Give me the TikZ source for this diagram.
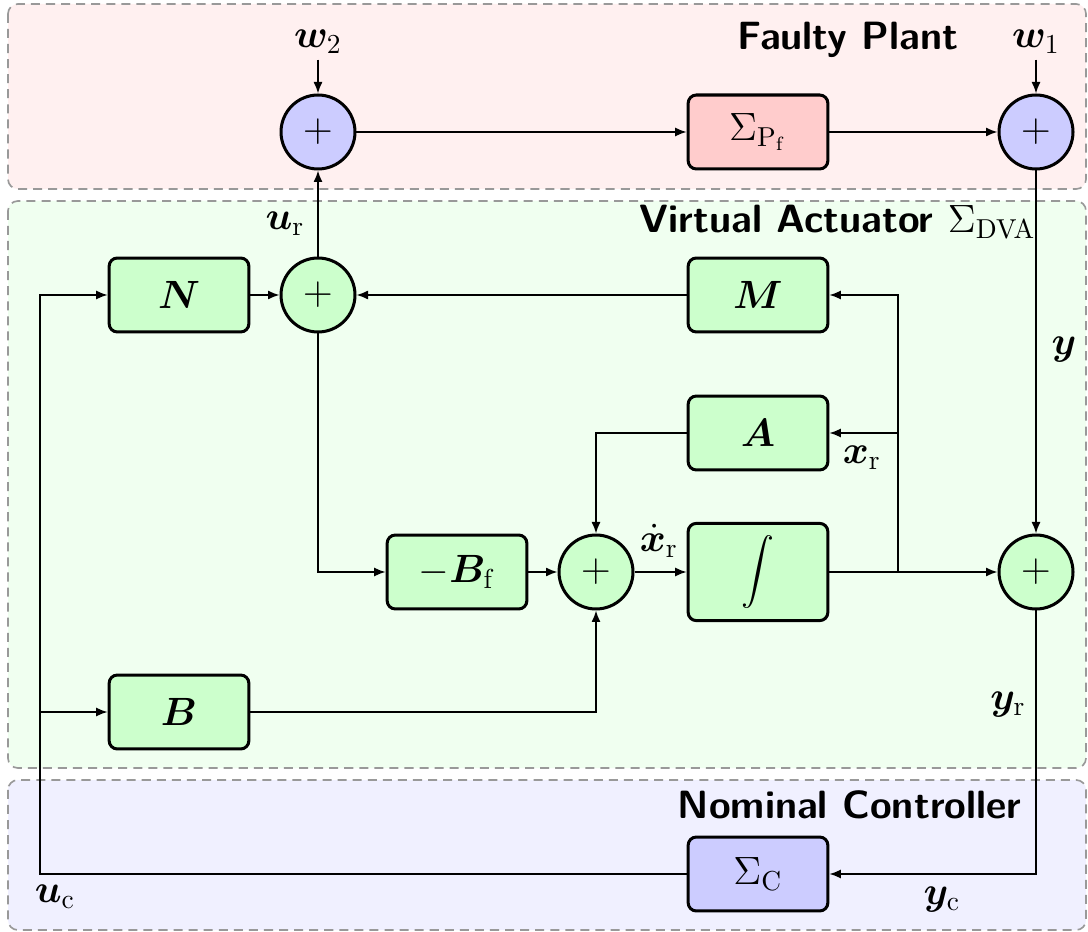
\documentclass[tikz,border=0pt]{standalone}
\usepackage{amsmath,bm}
\usetikzlibrary{arrows.meta,calc}
\definecolor{regred}{HTML}{FFF0F0}
\definecolor{reggreen}{HTML}{F0FFF0}
\definecolor{regblue}{HTML}{F0F0FF}
\definecolor{boxred}{HTML}{FFCCCC}
\definecolor{boxgreen}{HTML}{CCFFCC}
\definecolor{boxblue}{HTML}{CCCCFF}
\definecolor{regborder}{HTML}{999999}
\begin{document}
\begin{tikzpicture}[x=0.365pt,y=-0.365pt, font=\Large,
 blk/.style={draw, line width=1.1pt, rounded corners=3pt, minimum width=51pt, minimum height=27pt, inner sep=0pt, fill=boxgreen},
 sumc/.style={draw, circle, line width=1.1pt, minimum size=27pt, inner sep=0pt, fill=boxgreen},
 conn/.style={line width=0.6pt, -{Latex[length=4.2pt,width=3.3pt]}},
 region/.style={draw=regborder, dash pattern=on 3.3pt off 2.2pt, line width=0.6pt, rounded corners=3.6pt},
 title/.style={font=\Large\sffamily\bfseries, inner sep=0pt},
 lbl/.style={inner sep=2pt}]
\useasboundingbox (0,0) rectangle (1088,932);
\draw[region, fill=regred] (8,4) rectangle (1086,189);
\draw[region, fill=reggreen] (8,201) rectangle (1086,768);
\draw[region, fill=regblue] (8,780) rectangle (1086,930);

\node[title, anchor=east] (tP) at (959,40) {Faulty Plant};
\node[title, anchor=east] (tV) at (1036,222) {Virtual Actuator $\Sigma_{\mathrm{DVA}}$};
\node[title, anchor=east] (tC) at (1022,805) {Nominal Controller};

\node[sumc, fill=boxblue] (s2) at (318,132) {$+$};
\node[sumc, fill=boxblue] (s1) at (1036,132) {$+$};
\node[blk, fill=boxred] (P) at (758,132) {$\Sigma_{\mathrm{P_f}}$};
\node[blk] (N) at (179,295) {$\bm{N}$};
\node[sumc] (sr) at (318,295) {$+$};
\node[blk] (M) at (758,295) {$\bm{M}$};
\node[blk] (A) at (758,433) {$\bm{A}$};
\node[blk] (Bf) at (457,572) {$-\bm{B}_{\mathrm{f}}$};
\node[sumc] (sx) at (596,572) {$+$};
\node[blk, minimum height=35.5pt, font=\large] (I) at (758,572) {$\displaystyle\int$};
\node[sumc] (sy) at (1036,572) {$+$};
\node[blk] (B) at (179,712) {$\bm{B}$};
\node[blk, fill=boxblue] (C) at (758,874) {$\Sigma_{\mathrm{C}}$};

\node[lbl] (lw2) at (318,42) {$\bm{w}_2$};
\node[lbl] (lw1) at (1036,42) {$\bm{w}_1$};
\node (lur) at (285,224) {$\bm{u}_{\mathrm{r}}$};
\node (ly) at (1064,350) {$\bm{y}$};
\node (lxr) at (862,458) {$\bm{x}_{\mathrm{r}}$};
\node[inner sep=0pt] (lxd) at (659,541) {$\dot{\bm{x}}_{\mathrm{r}}$};
\node (lyr) at (1008,705) {$\bm{y}_{\mathrm{r}}$};
\node (luc) at (55,897) {$\bm{u}_{\mathrm{c}}$};
\node (lyc) at (942,900) {$\bm{y}_{\mathrm{c}}$};

\coordinate (br) at (898,572);
\coordinate (ct) at (40,295);
\coordinate (cb) at (40,712);

\draw[conn] (lw2) -- (s2);
\draw[conn] (lw1) -- (s1);
\draw[conn] (s2) -- (P);
\draw[conn] (P) -- (s1);
\draw[conn] (sr) -- (s2);
\draw[conn] (N) -- (sr);
\draw[conn] (M) -- (sr);
\draw[conn] (sr) |- (Bf);
\draw[conn] (Bf) -- (sx);
\draw[conn] (sx) -- (I);
\draw[conn] (A) -| (sx);
\draw[conn] (B) -| (sx);
\draw[conn] (I) -- (sy);
\draw[conn] (br) |- (M);
\draw[conn] (br) |- (A);
\draw[conn] (s1) -- (sy);
\draw[conn] (sy) |- (C);
\draw[conn] (C) -| (ct) -- (N);
\draw[conn] (cb) -- (B);
\end{tikzpicture}
\end{document}
